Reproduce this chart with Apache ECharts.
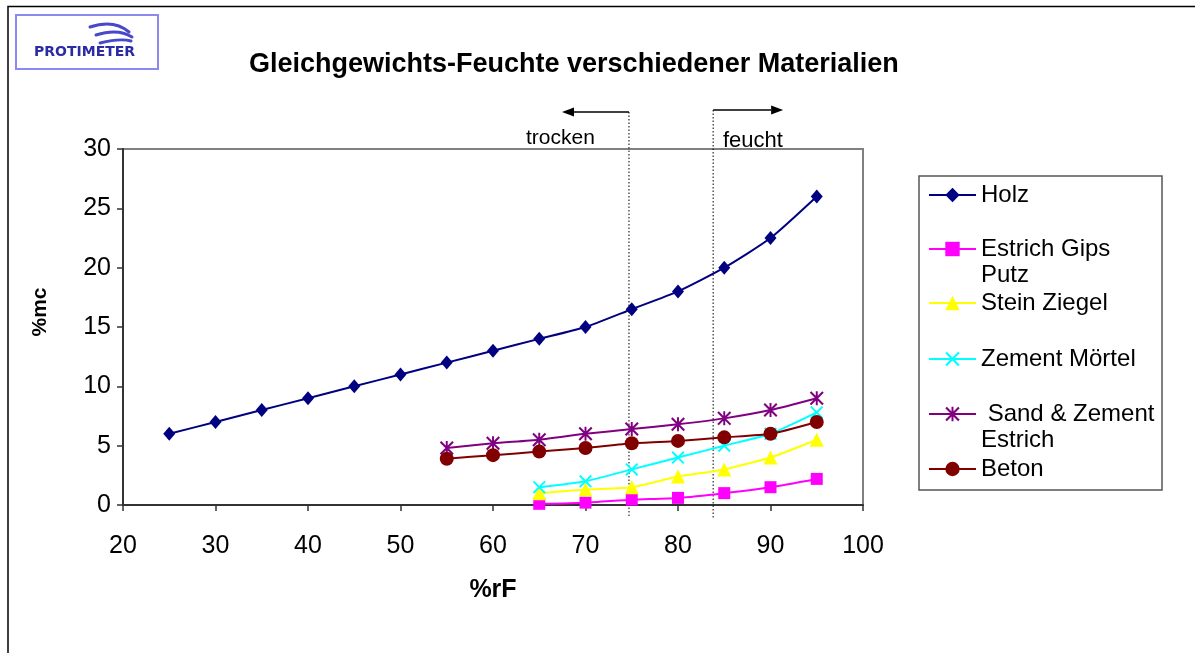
<!DOCTYPE html>
<html><head><meta charset="utf-8">
<script src="https://cdn.jsdelivr.net/npm/echarts@6/dist/echarts.min.js"></script>
<style>html,body{margin:0;padding:0;background:#fff}#c{width:1195px;height:653px}</style>
</head><body><div id="c"></div>
<script>
// ---- data ----
const holzX = [25, 30, 35, 40, 45, 50, 55, 60, 65, 70, 75, 80, 85, 90, 95];
const holzY = [6, 7, 8, 9, 10, 11, 12, 13, 14, 15, 16.5, 18, 20, 22.5, 26];
const matX = [65, 70, 75, 80, 85, 90, 95];
const estrichY = [0.1, 0.2, 0.45, 0.6, 1.0, 1.5, 2.2];
const steinY = [1.0, 1.3, 1.5, 2.4, 3.0, 4.0, 5.5];
const zementY = [1.5, 2.0, 3.0, 4.0, 5.0, 6.0, 7.8];
const sandX = [55, 60, 65, 70, 75, 80, 85, 90, 95];
const sandY = [4.8, 5.2, 5.5, 6.0, 6.4, 6.8, 7.3, 8.0, 9.0];
const betonY = [3.9, 4.2, 4.5, 4.8, 5.2, 5.4, 5.7, 6.0, 7.0];
const seriesNames = ['Holz', 'Estrich Gips Putz', 'Stein Ziegel', 'Zement Mörtel', ' Sand & Zement Estrich', 'Beton'];
const legendLabels = ['Holz', '\nEstrich Gips\nPutz', 'Stein Ziegel', 'Zement Mörtel', '\n Sand & Zement\nEstrich', 'Beton'];
const trockenX = 74.7;
const feuchtX = 83.8;
const titleText = 'Gleichgewichts-Feuchte verschiedener Materialien';

const zip = (xs, ys) => xs.map((x, i) => [x, ys[i]]);

const X_PATH = 'path://M1.03,-0.03L10.03,8.97L8.97,10.03L-0.03,1.03Z M8.97,-0.03L10.03,1.03L1.03,10.03L-0.03,8.97Z';
const STAR_PATH = 'path://M4.3,-0.03L5.7,-0.03L5.7,10.03L4.3,10.03Z M1.03,-0.03L10.03,8.97L8.97,10.03L-0.03,1.03Z M8.97,-0.03L10.03,1.03L1.03,10.03L-0.03,8.97Z';

const colors = ['#000080', '#FF00FF', '#FFFF00', '#00FFFF', '#800080', '#800000'];
const symbols = ['diamond', 'rect', 'triangle', X_PATH, STAR_PATH, 'circle'];
const sizes = [[12, 14], 12, 14, 13, 14, 14];
const dataSets = [zip(holzX, holzY), zip(matX, estrichY), zip(matX, steinY), zip(matX, zementY), zip(sandX, sandY), zip(sandX, betonY)];

const FONT = 'Liberation Sans, Arial, sans-serif';
const legendCenters = [193, 247, 301, 357, 412, 467];
const multi = [false, true, false, false, true, false];

const chart = echarts.init(document.getElementById('c'));

const legends = seriesNames.map((n, i) => ({
  data: [n],
  left: 928,
  top: multi[i] ? legendCenters[i] - 37 : legendCenters[i] - 11,
  padding: 0,
  itemWidth: 47,
  itemHeight: 18,
  itemGap: 0,
  selectedMode: false,
  formatter: () => legendLabels[i],
  textStyle: { fontFamily: FONT, fontSize: 24, color: '#000', lineHeight: 26 }
}));

const series = seriesNames.map((n, i) => ({
  name: n,
  type: 'line',
  data: dataSets[i],
  symbol: symbols[i],
  symbolSize: sizes[i],
  smooth: 0.2,
  lineStyle: { color: colors[i], width: 2 },
  itemStyle: { color: colors[i] },
  emphasis: { disabled: true },
  z: 3 + i
}));

chart.setOption({
  animation: false,
  backgroundColor: '#fff',
  title: {
    text: titleText, left: 249, top: 51, padding: 0,
    textStyle: { fontFamily: FONT, fontSize: 27, fontWeight: 'bold', color: '#000' }
  },
  legend: legends,
  grid: { left: 123, right: 332, top: 149, bottom: 148, show: true, borderColor: '#808080', borderWidth: 2, backgroundColor: 'transparent' },
  xAxis: {
    type: 'value', min: 20, max: 100, interval: 10,
    name: '%rF', nameLocation: 'middle', nameGap: 73,
    nameTextStyle: { fontFamily: FONT, fontSize: 25, fontWeight: 'bold', color: '#000' },
    axisLine: { show: true, lineStyle: { color: '#333', width: 2 } },
    axisTick: { show: true, length: 6, lineStyle: { color: '#333', width: 1.5 } },
    axisLabel: { margin: 29, fontFamily: FONT, fontSize: 25, color: '#000' },
    splitLine: { show: false }
  },
  yAxis: {
    type: 'value', min: 0, max: 30, interval: 5,
    name: '%mc', nameLocation: 'middle', nameGap: 72,
    nameTextStyle: { fontFamily: FONT, fontSize: 21, fontWeight: 'bold', color: '#000', padding: [0, 0, 0, 30] },
    axisLine: { show: true, lineStyle: { color: '#333', width: 2 } },
    axisTick: { show: true, length: 6, lineStyle: { color: '#333', width: 1.5 } },
    axisLabel: { margin: 12, fontFamily: FONT, fontSize: 25, color: '#000', padding: [3, 0, 0, 0] },
    splitLine: { show: false }
  },
  series: series
});

// annotations placed through the axis scale
const pT = chart.convertToPixel({ gridIndex: 0 }, [trockenX, 0])[0];
const pF = chart.convertToPixel({ gridIndex: 0 }, [feuchtX, 0])[0];
const dotted = { stroke: '#000', lineWidth: 1, lineDash: [1.5, 2] };
const wave = { stroke: '#4848c8', lineWidth: 3, fill: null, lineCap: 'round' };

chart.setOption({
  graphic: [
    // outer frame
    { type: 'polyline', shape: { points: [[8, 660], [8, 6.5], [1200, 6.5]] }, style: { stroke: '#000', lineWidth: 1.5, fill: null }, silent: true },
    // logo
    { type: 'rect', shape: { x: 16, y: 15, width: 142, height: 54 }, style: { stroke: '#8a8af0', lineWidth: 2, fill: '#fff' }, silent: true },
    { type: 'text', x: 34, y: 45, style: { text: 'PROTIMETER', fontFamily: 'DejaVu Sans, sans-serif', fontSize: 14, fontWeight: 'bold', fill: '#2b2ba6' }, silent: true },
    { type: 'bezierCurve', shape: { x1: 90, y1: 27, cpx1: 114, cpy1: 19, x2: 129, y2: 32 }, style: wave, silent: true },
    { type: 'bezierCurve', shape: { x1: 96, y1: 35, cpx1: 118, cpy1: 28, x2: 132, y2: 37 }, style: wave, silent: true },
    { type: 'bezierCurve', shape: { x1: 100, y1: 43, cpx1: 120, cpy1: 38, x2: 131, y2: 41 }, style: wave, silent: true },
    // dotted boundaries
    { type: 'line', shape: { x1: pT, y1: 112, x2: pT, y2: 518 }, style: dotted, silent: true, z: 1 },
    { type: 'line', shape: { x1: pF, y1: 110, x2: pF, y2: 518 }, style: dotted, silent: true, z: 1 },
    // arrows
    { type: 'line', shape: { x1: pT, y1: 112, x2: pT - 56, y2: 112 }, style: { stroke: '#000', lineWidth: 1.3 }, silent: true },
    { type: 'polygon', shape: { points: [[pT - 67, 112], [pT - 55, 107.5], [pT - 55, 116.5]] }, style: { fill: '#000' }, silent: true },
    { type: 'line', shape: { x1: pF, y1: 110, x2: pF + 58, y2: 110 }, style: { stroke: '#000', lineWidth: 1.3 }, silent: true },
    { type: 'polygon', shape: { points: [[pF + 70, 110], [pF + 58, 105.5], [pF + 58, 114.5]] }, style: { fill: '#000' }, silent: true },
    { type: 'text', x: 526, y: 128, style: { text: 'trocken', fontFamily: FONT, fontSize: 21, fill: '#000' }, silent: true },
    { type: 'text', x: 723, y: 130, style: { text: 'feucht', fontFamily: FONT, fontSize: 22, fill: '#000' }, silent: true },
    // legend frame
    { type: 'rect', shape: { x: 919, y: 176, width: 243, height: 314 }, style: { stroke: '#555', lineWidth: 1.5, fill: null }, silent: true, z: -1 }
  ]
});
</script></body></html>
